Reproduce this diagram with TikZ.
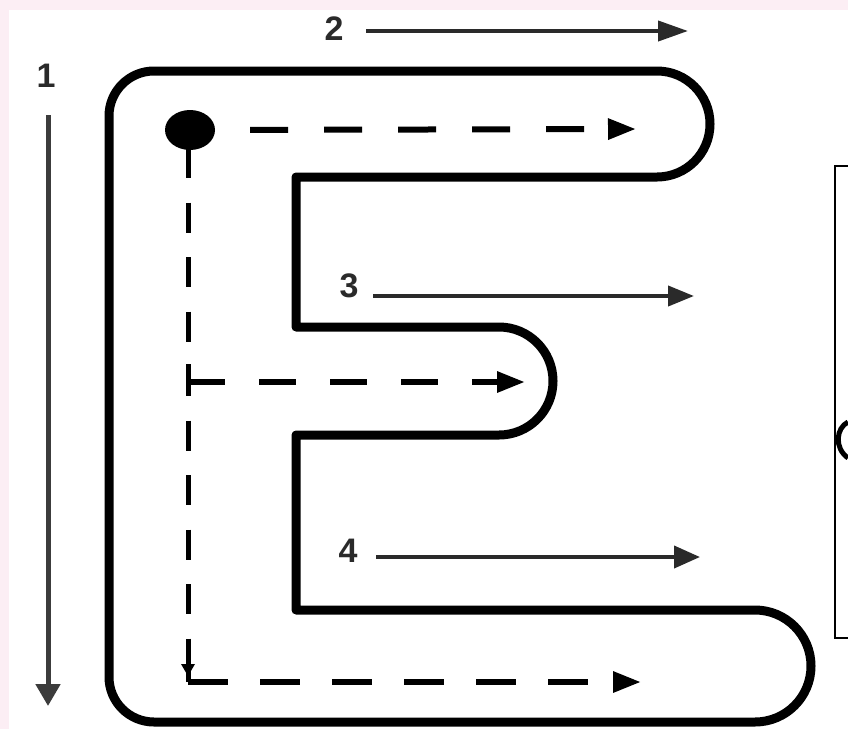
\documentclass[tikz,border=0pt]{standalone}
\usepackage{fontspec}
\setmainfont{Liberation Sans}
\usetikzlibrary{arrows.meta,shapes.geometric}
\definecolor{pinkbg}{HTML}{FCEEF4}
\definecolor{numgray}{HTML}{2A2A2A}
\definecolor{onegray}{HTML}{3C3C3C}
\begin{document}
\begin{tikzpicture}[x=1pt,y=-1pt,
  outline/.style={line width=9pt,line join=round,black},
  numlabel/.style={font=\fontsize{34}{34}\selectfont\bfseries,text=numgray,inner sep=0pt},
  guide/.style={line width=4pt,numgray,-{Triangle[length=24pt,width=20pt]}},
  dashline/.style={line width=6pt,black},
  dtip/.style={-{Triangle[length=28pt,width=20pt]}}]
\useasboundingbox (0,0) rectangle (848,729);
\fill[pinkbg] (0,0) rectangle (848,729);
\fill[white] (9,10) rectangle (848,729);

% right box
\draw[line width=2pt] (848,166) -- (835,166) -- (835,638) -- (848,638);
\draw[line width=5pt] (848,422) .. controls (836,428) and (834,448) .. (848,458);

% letter E outline
\draw[outline] (109,116) -- (109,677) arc (180:90:45) -- (755,722)
  arc (90:-90:56) -- (296,610) -- (296,435) -- (499,435)
  arc (90:-90:54) -- (296,327) -- (296,177) -- (657,177)
  arc (90:-90:53) -- (154,71) arc (270:180:45) -- cycle;

% start dot
\node (dot) [fill=black,ellipse,minimum width=50pt,minimum height=40pt,inner sep=0pt] at (190,130) {};

% coordinates of the guide paths
\coordinate (topend) at (636,129);
\coordinate (vtop) at (188,148);
\coordinate (branch) at (188,382);
\coordinate (midend) at (525,382);
\coordinate (corner) at (188,682);
\coordinate (botend) at (641,682);

% dashed guides
\draw[dashline,dtip,dash pattern=on 38pt off 36pt,dash phase=39pt] (dot.east) -- (topend);
\draw[dashline,line width=5pt,dash pattern=on 30pt off 24.5pt] (vtop) -- (corner);
\draw[dashline,line width=5pt] (188,640) -- (corner);
\fill (181,664) -- (195,664) -- (188,676) -- cycle;
\draw[dashline,dtip,dash pattern=on 37pt off 34pt] (branch) -- (midend);
\draw[dashline,line width=5pt] (188,364) -- (188,394);
\draw[dashline,dtip,dash pattern=on 40pt off 32pt] (corner) -- (botend);

% numbered strokes
\node[numlabel] (n1) at (46,76) {1};
\coordinate (a1s) at (48,115);
\coordinate (a1e) at (48,706);
\draw[guide,onegray,line width=5pt,-{Triangle[length=22pt,width=24pt]}] (a1s) -- (a1e);

\node[numlabel] (n2) at (334,29) {2};
\coordinate (a2s) at (366,31);
\coordinate (a2e) at (688,31);
\draw[guide,-{Triangle[length=30pt,width=20pt]}] (a2s) -- (a2e);

\node[numlabel] (n3) at (349,286) {3};
\coordinate (a3s) at (373,296);
\coordinate (a3e) at (694,296);
\draw[guide,-{Triangle[length=26pt,width=20pt]}] (a3s) -- (a3e);

\node[numlabel] (n4) at (348,551) {4};
\coordinate (a4s) at (376,557);
\coordinate (a4e) at (700,557);
\draw[guide,-{Triangle[length=26pt,width=22pt]}] (a4s) -- (a4e);
\end{tikzpicture}
\end{document}
